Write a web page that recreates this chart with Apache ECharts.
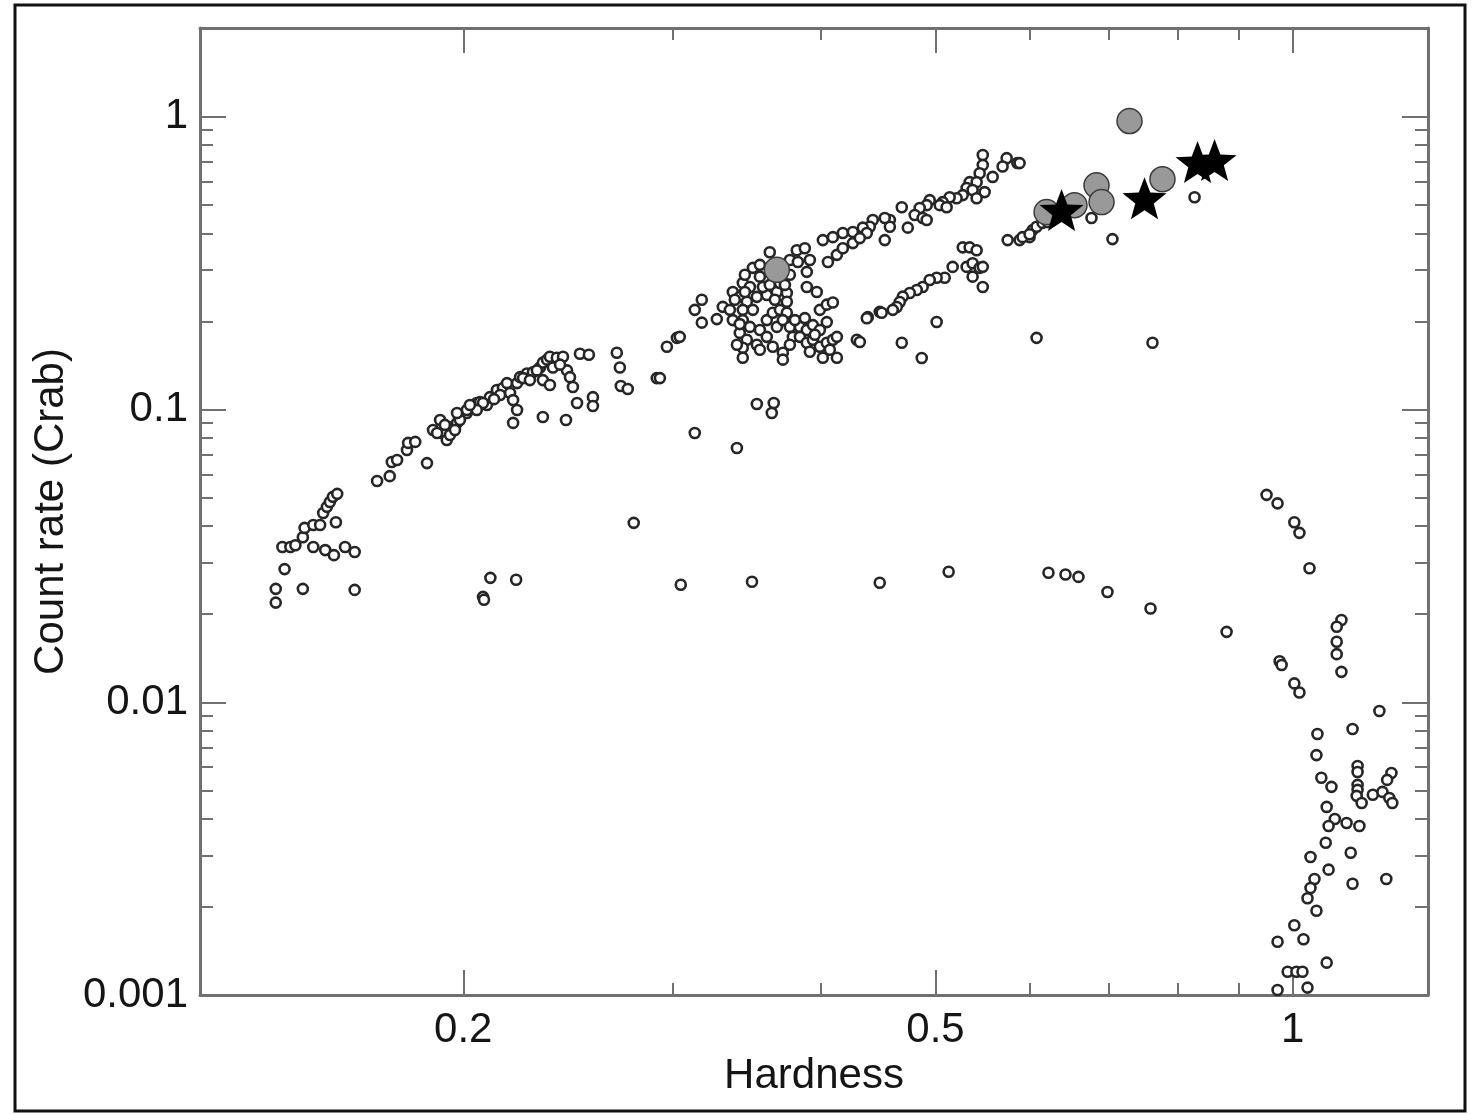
<!DOCTYPE html>
<html>
<head>
<meta charset="utf-8">
<title>Hardness vs count rate</title>
<script src="https://cdn.jsdelivr.net/npm/echarts@6/dist/echarts.min.js"></script>
<style>
  html, body { margin: 0; padding: 0; background: #ffffff; }
  #chart { width: 1477px; height: 1115px; }
</style>
</head>
<body>
<div id="chart"></div>
<script>
// Axis ranges (hardness ratio and count rate in Crab units, both log scaled)
const xRange = [0.12, 1.3];
const yRange = [0.001, 2.01];

// Tick positions
const xMajorTicks = [0.2, 0.5, 1];
const xMinorTicks = [0.3, 0.4, 0.6, 0.7, 0.8, 0.9];
const yMajorTicks = [0.001, 0.01, 0.1, 1];
const yMinorTicks = [
  0.002, 0.003, 0.004, 0.005, 0.006, 0.007, 0.008, 0.009,
  0.02, 0.03, 0.04, 0.05, 0.06, 0.07, 0.08, 0.09,
  0.2, 0.3, 0.4, 0.5, 0.6, 0.7, 0.8, 0.9,
  2
];

// Monitoring points: [hardness, count rate (Crab)]
const monitorPoints = [
  // soft end of the track
  [0.139,0.0244],[0.139,0.0219],[0.1465,0.0244],[0.162,0.0242],[0.1414,0.0285],
  [0.1408,0.0339],[0.143,0.0339],[0.1444,0.0344],[0.1465,0.0366],[0.1495,0.0339],
  [0.153,0.0331],[0.1556,0.0318],[0.159,0.0339],[0.162,0.0326],[0.1562,0.0412],
  [0.147,0.0394],[0.1495,0.0403],[0.1515,0.0403],[0.1524,0.0443],[0.1535,0.0465],
  [0.1544,0.0483],[0.1553,0.0503],[0.1566,0.0515],[0.1692,0.057],[0.1734,0.0592],
  [0.1741,0.0662],[0.1759,0.0672],[0.1793,0.0727],[0.1797,0.0769],[0.1822,0.0775],
  [0.1864,0.0656],[0.1912,0.0921],[0.1923,0.0831],[0.1937,0.0787],[0.1957,0.0871],
  [0.1976,0.09],[0.1987,0.0943],[0.2014,0.0973],[0.2037,0.102],[0.2053,0.1052],
  [0.1886,0.0851],[0.1901,0.0831],[0.193,0.0886],[0.1949,0.0818],[0.1968,0.0851],
  // rising branch 0.2 - 0.3
  [0.1987,0.0921],[0.2014,0.0996],[0.2066,0.106],[0.2094,0.1036],[0.2106,0.1102],
  [0.2135,0.1166],[0.216,0.1184],[0.2177,0.1231],[0.219,0.1139],[0.2203,0.1077],
  [0.222,0.0996],[0.2203,0.09],[0.222,0.1231],[0.2233,0.129],[0.2263,0.1328],
  [0.2289,0.1339],[0.2321,0.1392],[0.2334,0.1446],[0.2353,0.148],[0.2366,0.1515],
  [0.2398,0.1503],[0.2427,0.1515],[0.238,0.1392],[0.2334,0.126],[0.2366,0.1212],
  [0.2446,0.136],[0.246,0.129],[0.2474,0.1194],[0.2494,0.1052],[0.2334,0.0943],
  [0.2441,0.0921],[0.2508,0.155],[0.2552,0.1538],[0.2694,0.1563],[0.271,0.1392],
  [0.2715,0.1203],[0.2752,0.1175],[0.2572,0.1102],[0.2572,0.1028],[0.2911,0.128],
  [0.2929,0.128],[0.2969,0.1638],[0.3027,0.1757],[0.3134,0.0831],[0.2784,0.041],
  [0.2148,0.1121],[0.2246,0.128],[0.2276,0.126],[0.2307,0.136],[0.2413,0.1423],
  [0.2078,0.1052],[0.2053,0.0996],[0.2123,0.1085],[0.1976,0.0973],[0.2026,0.1036],
  [0.3401,0.0739],[0.3535,0.1044],[0.3653,0.1052],[0.3639,0.0973],
  // dense group near hardness 0.35 - 0.42
  [0.3134,0.219],[0.3177,0.237],[0.3177,0.198],[0.3271,0.2036],[0.3309,0.2242],
  [0.3374,0.202],[0.3044,0.1771],[0.3374,0.252],[0.344,0.2705],[0.3508,0.3047],
  [0.3625,0.3446],[0.382,0.35],[0.388,0.3556],[0.3769,0.324],[0.3828,0.319],
  [0.3918,0.324],[0.3895,0.2953],[0.3556,0.2843],[0.3488,0.2621],[0.342,0.2426],
  [0.3467,0.2333],[0.3535,0.2426],[0.3604,0.2462],[0.3675,0.252],[0.3747,0.25],
  [0.3577,0.2621],[0.3697,0.2705],[0.3747,0.2333],[0.344,0.219],[0.3508,0.219],
  [0.344,0.202],[0.3488,0.1915],[0.342,0.1827],[0.3467,0.173],[0.344,0.1625],
  [0.344,0.1503],[0.3556,0.187],[0.3604,0.202],[0.3646,0.214],[0.3697,0.219],
  [0.3747,0.214],[0.3675,0.1915],[0.3718,0.202],[0.3769,0.1915],[0.3791,0.1771],
  [0.3604,0.1771],[0.3646,0.1638],[0.3718,0.1563],[0.3718,0.148],[0.3535,0.1664],
  [0.3843,0.1915],[0.3895,0.187],[0.3941,0.1942],[0.3995,0.187],[0.4049,0.1989],
  [0.3843,0.1771],[0.3895,0.169],[0.3941,0.173],[0.3995,0.1638],[0.4049,0.169],
  [0.4097,0.173],[0.4129,0.1771],[0.3918,0.1575],[0.4018,0.1503],[0.4129,0.1503],
  [0.4073,0.16],[0.3895,0.2621],[0.3971,0.252],[0.3995,0.219],[0.4049,0.2281],
  [0.4097,0.232],[0.4292,0.173],[0.4384,0.2068],[0.4018,0.379],[0.4097,0.388],
  [0.4177,0.4006],[0.4259,0.4038],[0.4058,0.319],[0.4129,0.3375],[0.4177,0.3556],
  [0.4259,0.3702],[0.4487,0.2156],
  [0.3387,0.237],[0.3454,0.252],[0.3661,0.237],[0.3733,0.2665],[0.3625,0.2665],
  [0.3806,0.202],[0.388,0.2052],[0.3956,0.18],[0.3769,0.1664],[0.3556,0.16],
  [0.342,0.1958],[0.3355,0.219],[0.3401,0.1664],[0.3556,0.312],[0.3454,0.2887],
  [0.3769,0.2887],
  // upper and lower branches 0.43 - 0.62
  [0.548,0.74],[0.548,0.684],[0.574,0.722],[0.586,0.695],[0.5695,0.676],
  [0.5447,0.641],[0.5586,0.623],[0.5342,0.598],[0.5415,0.598],[0.5311,0.571],
  [0.5373,0.562],[0.55,0.553],[0.5415,0.527],[0.5271,0.54],[0.5209,0.527],
  [0.5139,0.531],[0.507,0.511],[0.5041,0.499],[0.5109,0.491],[0.4944,0.519],
  [0.4915,0.499],[0.4849,0.488],[0.4802,0.462],[0.4877,0.451],[0.4683,0.491],
  [0.4576,0.444],[0.4576,0.421],[0.4531,0.451],[0.4427,0.444],[0.4401,0.421],
  [0.4342,0.418],[0.4376,0.401],[0.4317,0.385],[0.4738,0.418],[0.4531,0.379],
  [0.4915,0.444],
  [0.5271,0.358],[0.5342,0.358],[0.5415,0.35],[0.5311,0.307],[0.5373,0.316],
  [0.5447,0.3047],[0.548,0.3071],[0.5373,0.2843],[0.548,0.2621],[0.5169,0.307],
  [0.509,0.282],[0.5011,0.282],[0.4944,0.277],[0.4877,0.262],[0.4821,0.256],
  [0.4756,0.25],[0.4692,0.243],[0.4665,0.233],[0.4638,0.224],[0.4602,0.219],
  [0.4504,0.214],[0.4376,0.205],[0.5011,0.199],[0.4317,0.17],[0.4683,0.169],
  [0.4868,0.15],[0.6083,0.1757],
  [0.5751,0.379],[0.5886,0.379],[0.6001,0.388],[0.6036,0.41],[0.6083,0.421],
  [0.6154,0.434],[0.592,0.388],
  [0.5886,0.6945],[0.6767,0.451],[0.7048,0.382],[0.8265,0.531],[0.7617,0.169],
  [0.6001,0.397],[0.6214,0.437],
  // faint row near 0.025 Crab
  [0.2108,0.0266],[0.2216,0.0262],[0.2078,0.0229],[0.2082,0.0224],
  [0.305,0.0252],[0.3502,0.0258],[0.4487,0.0256],[0.5129,0.0279],[0.6225,0.0277],
  [0.6434,0.0273],[0.6598,0.0268],[0.698,0.0238],[0.7588,0.0209],[0.8795,0.0174],
  // hard decay towards quiescence
  [0.9504,0.0511],[0.9709,0.0478],[1.003,0.0412],[1.013,0.0379],[1.033,0.0287],
  [1.099,0.0191],[1.089,0.0181],[1.089,0.0161],[1.089,0.0146],[1.099,0.0127],
  [0.9748,0.0138],[0.9786,0.0134],[1.003,0.0116],[1.013,0.0108],
  [1.183,0.00934],[1.123,0.0081],[1.049,0.00779],[1.047,0.0066],[1.134,0.00606],
  [1.134,0.00578],[1.211,0.00573],[1.201,0.00543],[1.057,0.00552],[1.078,0.00514],
  [1.134,0.00522],[1.134,0.00502],[1.132,0.00479],[1.143,0.00453],[1.168,0.00483],
  [1.19,0.00494],[1.206,0.00471],[1.213,0.00453],[1.068,0.00439],[1.085,0.00399],
  [1.072,0.00378],[1.11,0.00387],[1.138,0.00378],[1.066,0.00331],[1.119,0.00306],
  [1.035,0.00296],[1.072,0.00268],[1.199,0.00249],[1.123,0.0024],[1.043,0.00249],
  [1.035,0.00232],[1.029,0.00214],[1.047,0.00194],[1.003,0.00173],[0.9709,0.00152],
  [1.021,0.00155],[1.068,0.00129],[0.9901,0.0012],[1.007,0.0012],[1.019,0.0012],
  [0.9709,0.00104],[1.029,0.00106]
];

// Pointed observations drawn as grey discs
const greyPoints = [
  [0.7285,0.967],[0.6833,0.583],[0.69,0.511],[0.7766,0.612],
  [0.6202,0.4725],[0.6547,0.499],[0.3675,0.30]
];

// Pointed observations drawn as stars
const starPoints = [
  [0.6385,0.48],[0.75,0.527],[0.8313,0.70],[0.8592,0.711]
];

const lg = Math.log10;
const toLog = pts => pts.map(p => [lg(p[0]), lg(p[1])]);
const tickText = v => String(parseFloat(Math.pow(10, v).toPrecision(3)));

const FONT = "'Liberation Sans', Arial, Helvetica, sans-serif";
const AXIS_COLOR = '#707070';
const TEXT_COLOR = '#151515';

// five-pointed star outline
const STAR = 'path://M50 0 L62.5 33 L97.55 34.55 L70 56.5 L79.39 90.45 L50 71 L20.61 90.45 L30 56.5 L2.45 34.55 L37.5 33 Z';

function makeAxis(range, position, ticks, tickLen, opts) {
  const vals = ticks.map(lg);
  return Object.assign({
    type: 'value',
    position: position,
    min: lg(range[0]),
    max: lg(range[1]),
    axisLine: { show: !!opts.line, onZero: false, lineStyle: { color: AXIS_COLOR, width: 3 } },
    axisTick: { show: true, inside: true, length: tickLen, customValues: vals,
                lineStyle: { color: AXIS_COLOR, width: 2 } },
    axisLabel: { show: !!opts.labels, customValues: vals, formatter: tickText,
                 margin: opts.margin || 12, fontSize: 42, color: TEXT_COLOR, fontFamily: FONT },
    splitLine: { show: false },
    minorTick: { show: false }
  }, opts.extra || {});
}

const chart = echarts.init(document.getElementById('chart'), null, { renderer: 'canvas' });

chart.setOption({
  animation: false,
  backgroundColor: '#ffffff',
  grid: { left: 200, top: 28, width: 1228, height: 967, containLabel: false },
  graphic: [{
    type: 'rect', silent: true, z: -10,
    shape: { x: 15, y: 5, width: 1450, height: 1106 },
    style: { fill: 'transparent', stroke: '#111111', lineWidth: 3 }
  }],
  xAxis: [
    makeAxis(xRange, 'bottom', xMajorTicks, 25, { line: true, labels: true, margin: 14, extra: {
      name: 'Hardness', nameLocation: 'middle', nameGap: 50,
      nameTextStyle: { fontSize: 42, color: TEXT_COLOR, fontFamily: FONT }
    } }),
    makeAxis(xRange, 'bottom', xMinorTicks, 12, {}),
    makeAxis(xRange, 'top', xMajorTicks, 25, { line: true }),
    makeAxis(xRange, 'top', xMinorTicks, 12, {})
  ],
  yAxis: [
    makeAxis(yRange, 'left', yMajorTicks, 26, { line: true, labels: true, margin: 12, extra: {
      name: 'Count rate (Crab)', nameLocation: 'middle', nameGap: 111,
      nameTextStyle: { fontSize: 42, color: TEXT_COLOR, fontFamily: FONT }
    } }),
    makeAxis(yRange, 'left', yMinorTicks, 13, {}),
    makeAxis(yRange, 'right', yMajorTicks, 26, { line: true }),
    makeAxis(yRange, 'right', yMinorTicks, 13, {})
  ],
  series: [
    {
      name: 'Monitoring', type: 'scatter', xAxisIndex: 0, yAxisIndex: 0,
      data: toLog(monitorPoints), symbol: 'circle', symbolSize: 10, z: 2,
      itemStyle: { color: '#ffffff', borderColor: '#262626', borderWidth: 2.6, opacity: 1 },
      emphasis: { disabled: true }
    },
    {
      name: 'Pointed (discs)', type: 'scatter', xAxisIndex: 0, yAxisIndex: 0,
      data: toLog(greyPoints), symbol: 'circle', symbolSize: 25, z: 3,
      itemStyle: { color: '#999999', borderColor: '#3a3a3a', borderWidth: 1.5, opacity: 1 },
      emphasis: { disabled: true }
    },
    {
      name: 'Pointed (stars)', type: 'scatter', xAxisIndex: 0, yAxisIndex: 0,
      data: toLog(starPoints), symbol: STAR, symbolSize: [44, 42], z: 4,
      itemStyle: { color: '#000000', opacity: 1 },
      emphasis: { disabled: true }
    }
  ]
});
</script>
</body>
</html>
